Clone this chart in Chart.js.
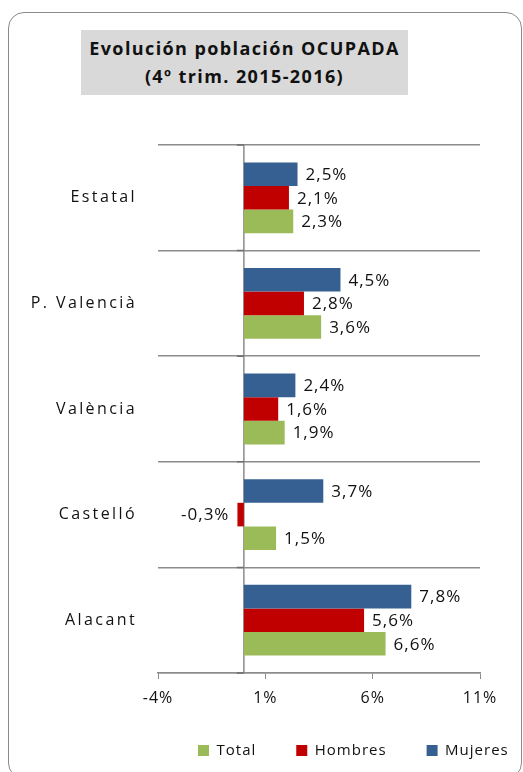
<!DOCTYPE html>
<html>
<head>
<meta charset="utf-8">
<script src="https://cdn.jsdelivr.net/npm/chart.js@4/dist/chart.umd.min.js"></script>
<style>
  body { margin: 0; width: 523px; height: 772px; overflow: hidden; position: relative; background: #fff; font-family: "Open Sans", sans-serif; }
  #frame { position: absolute; left: 8px; top: 12px; width: 514px; height: 767px; box-sizing: border-box; border: 1.5px solid #8a8a8a; border-radius: 16px; }
  #title { position: absolute; left: 81px; top: 30px; width: 327px; height: 65px; background: #d9d9d9; text-align: center; font-weight: bold; font-size: 18px; letter-spacing: 1.4px; line-height: 28px; padding-top: 4px; box-sizing: border-box; color: #111; white-space: nowrap; }
  #chart { position: absolute; left: 0; top: 0; }
</style>
</head>
<body>
<div id="frame"></div>
<div id="title">Evolución población OCUPADA<br>(4º trim. 2015-2016)</div>
<canvas id="chart" width="523" height="772"></canvas>
<script>
const categories = ['Estatal', 'P. Valencià', 'València', 'Castelló', 'Alacant'];
const mujeres = [2.5, 4.5, 2.4, 3.7, 7.8];
const hombres = [2.1, 2.8, 1.6, -0.3, 5.6];
const total = [2.3, 3.6, 1.9, 1.5, 6.6];
const xTicks = [-4, 1, 6, 11];

const grey = '#8c8c8c';

// spacing like the excel rendering
const spacing = {
  id: 'spacing',
  beforeLayout(chart) { chart.ctx.letterSpacing = '1px'; },
  afterLayout(chart) {
    const y = chart.scales.y;
    if (!y._wrapped) {
      const orig = y.drawLabels.bind(y);
      y.drawLabels = function (area) {
        chart.ctx.save();
        chart.ctx.letterSpacing = '2.4px';
        orig(area);
        chart.ctx.restore();
      };
      y._wrapped = true;
    }
    // legend sits right of center in the original
    const lg = chart.legend;
    lg.left += 158;
    lg.right += 158;
  },
  beforeDraw(chart) { chart.ctx.letterSpacing = '1px'; }
};

const zeroLine = {
  id: 'zeroLine',
  beforeDatasetsDraw(chart) {
    const ctx = chart.ctx, a = chart.chartArea, y = chart.scales.y;
    const x0 = chart.scales.x.getPixelForValue(0);
    ctx.save();
    ctx.strokeStyle = grey;
    ctx.lineWidth = 1.5;
    ctx.beginPath();
    ctx.moveTo(x0, a.top);
    ctx.lineTo(x0, a.bottom);
    ctx.stroke();
    // small category ticks crossing the zero axis
    const band = (a.bottom - a.top) / categories.length;
    ctx.strokeStyle = '#6e6e6e';
    ctx.beginPath();
    for (let i = 0; i <= categories.length; i++) {
      const yy = y.getPixelForTick(0) - band / 2 + i * band;
      ctx.moveTo(x0 - 7, yy);
      ctx.lineTo(x0, yy);
    }
    ctx.stroke();
    ctx.restore();
  }
};

const barLabels = {
  id: 'barLabels',
  afterDatasetsDraw(chart) {
    const ctx = chart.ctx;
    ctx.save();
    ctx.font = '17px "Open Sans"';
    ctx.fillStyle = '#111';
    ctx.textBaseline = 'middle';
    chart.data.datasets.forEach((ds, i) => {
      chart.getDatasetMeta(i).data.forEach((bar, j) => {
        const v = ds.data[j];
        const txt = v.toFixed(1).replace('.', ',') + '%';
        ctx.textAlign = v < 0 ? 'right' : 'left';
        ctx.fillText(txt, v < 0 ? bar.x - 8 : bar.x + 8, bar.y + 1);
      });
    });
    ctx.restore();
  }
};

new Chart(document.getElementById('chart'), {
  type: 'bar',
  data: {
    labels: categories,
    datasets: [
      { label: 'Mujeres', data: mujeres, backgroundColor: '#376092' },
      { label: 'Hombres', data: hombres, backgroundColor: '#c00000' },
      { label: 'Total', data: total, backgroundColor: '#9bbb59' }
    ]
  },
  options: {
    indexAxis: 'y',
    responsive: false,
    animation: false,
    datasets: { bar: { categoryPercentage: 0.67, barPercentage: 1, borderWidth: 0 } },
    layout: { padding: { top: 145, right: 43, bottom: 4, left: 0 } },
    scales: {
      x: {
        min: xTicks[0],
        max: xTicks[xTicks.length - 1],
        afterBuildTicks(s) { s.ticks = xTicks.map(v => ({ value: v })); },
        grid: { drawOnChartArea: false, drawTicks: true, tickLength: 6, color: grey },
        border: { display: true, color: grey, width: 1.5 },
        ticks: { padding: 10, color: '#111', font: { family: 'Open Sans', size: 16 }, maxRotation: 0, callback: v => v + '%' },
        afterFit(s) { s.height = 30; }
      },
      y: {
        grid: { offset: true, color: grey, lineWidth: 1.5, drawTicks: false },
        border: { display: false },
        ticks: { padding: 21, color: '#111', font: { family: 'Open Sans', size: 16 } },
        afterFit(s) { s.width = 158; }
      }
    },
    plugins: {
      legend: {
        position: 'bottom',
        align: 'start',
        reverse: true,
        labels: { boxWidth: 11, boxHeight: 11, padding: 40, color: '#111', font: { family: 'Open Sans', size: 15 } }
      },
      title: { display: false },
      tooltip: { enabled: false }
    }
  },
  plugins: [spacing, zeroLine, barLabels]
});
</script>
</body>
</html>
